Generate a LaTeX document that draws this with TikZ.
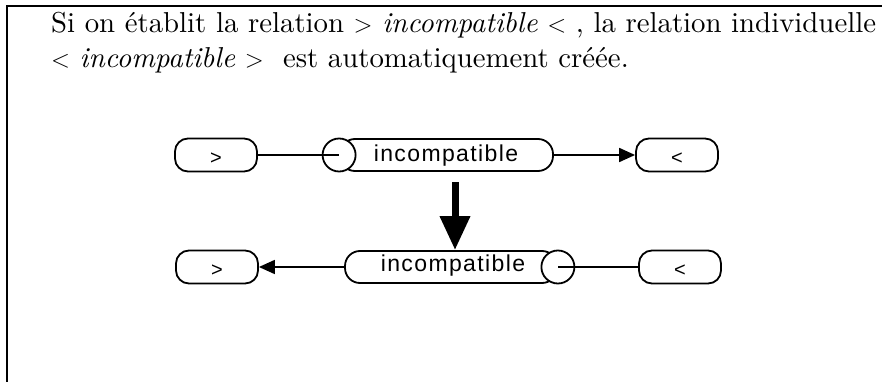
\documentclass[tikz,border=0pt]{standalone}
\usepackage{fontspec}
\setmainfont{lmroman10-regular.otf}[ItalicFont=lmroman10-italic.otf, BoldFont=lmroman10-bold.otf]
\usetikzlibrary{arrows.meta}
\newfontfamily\helv[LetterSpace=6]{Liberation Sans}
\tikzset{
  frameline/.style={line width=1.4pt},
  pill/.style={draw, rounded corners=13pt, minimum width=82pt, minimum height=33pt, inner sep=0pt, fill=white, line width=1.8pt},
  body/.style={draw, rounded corners=15pt, minimum height=32pt, inner sep=0pt, fill=white, line width=1.8pt},
  endcirc/.style={draw, circle, minimum size=33pt, inner sep=0pt, fill=white, line width=1.8pt},
  pilltext/.style={inner sep=0pt, font=\helv\fontsize{20}{20}\selectfont},
  bodytext/.style={inner sep=0pt, font=\helv\fontsize{23}{23}\selectfont},
  conn/.style={line width=1.8pt},
  tip/.style={-{Triangle[length=16pt,width=14pt]}},
  maintext/.style={anchor=base west, inner sep=0pt, font=\fontsize{28.8}{36}\selectfont}
}
\begin{document}
\begin{tikzpicture}[x=1pt,y=-1pt]
\useasboundingbox (0,0) rectangle (882,382);
\draw[frameline] (882,6) -- (7,6) -- (7,382);

\node[maintext] (l1) at (51,33) {Si on établit la relation $>$ \textit{incompatible} $<$ , la relation individuelle};
\node[maintext] (l2) at (51,68) {$<$ \textit{incompatible} $>$\ \ est automatiquement créée.};

% top row
\node[pill] (gt1) at (216,155) {};
\node[pilltext] (gt1t) at ([yshift=-4pt]gt1.center) {>};
\node[body, minimum width=213pt] (inc1) at (446.5,155) {};
\node[bodytext] (inc1t) at (446,156) {incompatible};
\node[endcirc] (c1) at (inc1.west) {};
\node[pill] (lt1) at (677,155) {};
\node[pilltext] (lt1t) at ([yshift=-4pt]lt1.center) {<};
\draw[conn] (gt1.east) -- (c1.center);
\draw[conn,tip] (inc1.east) -- (lt1.west);

% bottom row
\node[pill] (gt2) at (217,267) {};
\node[pilltext] (gt2t) at ([yshift=-4pt]gt2.center) {>};
\node[body, minimum width=212pt] (inc2) at (451,267) {};
\node[bodytext] (inc2t) at (453,266) {incompatible};
\node[endcirc] (c2) at (inc2.east) {};
\node[pill] (lt2) at (680,267) {};
\node[pilltext] (lt2t) at ([yshift=-4pt]lt2.center) {<};
\draw[conn] (lt2.west) -- (c2.center);
\draw[conn,tip] (inc2.west) -- (gt2.east);

% big arrow
\coordinate (a1) at (455,182);
\coordinate (a2) at (455,250);
\draw[line width=7pt, -{Triangle[length=34pt,width=29pt]}] (a1) -- (a2);
\end{tikzpicture}
\end{document}
